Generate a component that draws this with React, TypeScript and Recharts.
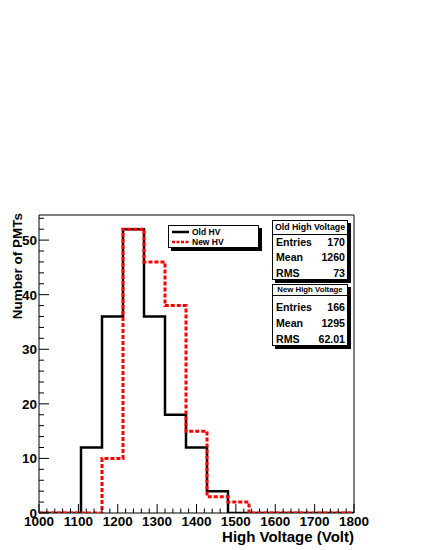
import React from 'react';
import { ComposedChart, Line, XAxis, YAxis, ReferenceArea, Legend, Label } from 'recharts';

// histogram binning (ROOT TH1: 15 bins between 1000 and 1800 V)
const binLow = 1000;
const binHigh = 1800;
const nBins = 15;

const oldHV = [0, 0, 12, 36, 52, 36, 18, 12, 4, 0, 0, 0, 0, 0, 0];
const newHV = [0, 0, 0, 10, 52, 46, 38, 15, 3, 2, 0, 0, 0, 0, 0];

const xMajorTicks = [1000, 1100, 1200, 1300, 1400, 1500, 1600, 1700, 1800];
const yMajorTicks = [0, 10, 20, 30, 40, 50];
const yMax = 54.6;

const oldStats = [
  ['Entries', '170'],
  ['Mean', '1260'],
  ['RMS', '73'],
];
const newStats = [
  ['Entries', '166'],
  ['Mean', '1295'],
  ['RMS', '62.01'],
];

const FONT = '"Liberation Sans", Arial, Helvetica, sans-serif';

// step data: one point per bin low edge + closing point at the upper edge
const binWidth = (binHigh - binLow) / nBins;
const histData = oldHV.map((v, i) => ({ x: binLow + i * binWidth, oldHV: v, newHV: newHV[i] }));
histData.push({ x: binHigh, oldHV: oldHV[nBins - 1], newHV: newHV[nBins - 1] });

// minor ticks every 20 V / 2 counts
const xTicks: number[] = [];
for (let t = binLow; t <= binHigh; t += 20) xTicks.push(t);
const yTicks: number[] = [];
for (let t = 0; t <= 54; t += 2) yTicks.push(t);

const XTick = (props: any) => {
  const { x, y, payload } = props;
  const major = xMajorTicks.includes(payload.value);
  return (
    <g>
      <line x1={x} x2={x} y1={y} y2={y - (major ? 9 : 4.5)} stroke="#000" strokeWidth={1} />
      {major && (
        <text x={x} y={y + 13} textAnchor="middle" fontFamily={FONT} fontWeight="bold" fontSize={13.5} fill="#000">
          {payload.value}
        </text>
      )}
    </g>
  );
};

const YTick = (props: any) => {
  const { x, y, payload } = props;
  const major = yMajorTicks.includes(payload.value);
  return (
    <g>
      <line x1={x} x2={x + (major ? 10 : 5)} y1={y} y2={y} stroke="#000" strokeWidth={1} />
      {major && (
        <text x={x - 2} y={y + 5} textAnchor="end" fontFamily={FONT} fontWeight="bold" fontSize={13.5} fill="#000">
          {payload.value}
        </text>
      )}
    </g>
  );
};

const XTitle = (props: any) => {
  const { viewBox } = props;
  return (
    <text x={viewBox.x + viewBox.width} y={viewBox.y + 29} textAnchor="end" fontFamily={FONT} fontWeight="bold" fontSize={15} fill="#000">
      High Voltage (Volt)
    </text>
  );
};

const YTitle = (props: any) => {
  const { viewBox } = props;
  const x = 22;
  const y = viewBox.y - 2;
  return (
    <text x={x} y={y} transform={`rotate(-90 ${x} ${y})`} textAnchor="end" fontFamily={FONT} fontWeight="bold" fontSize={13.5} fill="#000">
      Number of PMTs
    </text>
  );
};

const HistLegend = () => (
  <div
    style={{
      width: 91,
      height: 23,
      boxSizing: 'border-box',
      border: '1px solid #000',
      background: '#fff',
      boxShadow: '3px 3px 0 #000',
      fontFamily: FONT,
      fontWeight: 'bold',
      fontSize: 8.5,
      padding: '1px 0 0 3px',
    }}
  >
    {[
      { name: 'Old HV', color: '#000', dash: undefined },
      { name: 'New HV', color: '#ff0000', dash: '3 1.5' },
    ].map((e) => (
      <div key={e.name} style={{ display: 'flex', alignItems: 'center', height: 10 }}>
        <svg width={18} height={6} style={{ marginRight: 2 }}>
          <line x1={0} x2={17} y1={3} y2={3} stroke={e.color} strokeWidth={2.5} strokeDasharray={e.dash} />
        </svg>
        <span>{e.name}</span>
      </div>
    ))}
  </div>
);

const StatsBox = ({ title, rows, top, height, titleH, titleSize, padTop, rowH }: any) => (
  <div
    style={{
      position: 'absolute',
      left: 272,
      top,
      width: 76,
      height,
      boxSizing: 'border-box',
      border: '1px solid #000',
      background: '#fff',
      boxShadow: '3px 3px 0 #000',
      fontFamily: FONT,
      fontWeight: 'bold',
      color: '#000',
    }}
  >
    <div
      style={{
        height: titleH,
        borderBottom: '1px solid #000',
        fontSize: titleSize,
        lineHeight: `${titleH}px`,
        textAlign: 'center',
        whiteSpace: 'nowrap',
      }}
    >
      {title}
    </div>
    <div style={{ paddingTop: padTop }}>
      {rows.map((r: string[]) => (
        <div
          key={r[0]}
          style={{ display: 'flex', justifyContent: 'space-between', height: rowH, lineHeight: `${rowH}px`, fontSize: 10.6, padding: '0 2px 0 3px' }}
        >
          <span>{r[0]}</span>
          <span>{r[1]}</span>
        </div>
      ))}
    </div>
  </div>
);

export default function App() {
  return (
    <div style={{ position: 'absolute', left: 0, top: 0, width: 425, height: 550, background: '#fff' }}>
      <ComposedChart width={425} height={550} data={histData} margin={{ top: 215, right: 71, bottom: 0, left: 0 }}>
        <XAxis
          dataKey="x"
          type="number"
          domain={[binLow, binHigh]}
          ticks={xTicks}
          interval={0}
          allowDataOverflow
          height={37}
          axisLine={false}
          tickLine={false}
          tickSize={0}
          tickMargin={0}
          tick={<XTick />}
        >
          <Label content={<XTitle />} />
        </XAxis>
        <YAxis
          type="number"
          domain={[0, yMax]}
          ticks={yTicks}
          interval={0}
          allowDataOverflow
          width={39}
          axisLine={false}
          tickLine={false}
          tickSize={0}
          tickMargin={0}
          tick={<YTick />}
        >
          <Label content={<YTitle />} />
        </YAxis>
        <ReferenceArea x1={binLow} x2={binHigh} y1={0} y2={yMax} fill="none" stroke="#000" strokeWidth={1} />
        <Line
          type="stepAfter"
          dataKey="oldHV"
          name="Old HV"
          stroke="#000"
          strokeWidth={2.5}
          dot={false}
          activeDot={false}
          isAnimationActive={false}
        />
        <Line
          type="stepAfter"
          dataKey="newHV"
          name="New HV"
          stroke="#ff0000"
          strokeWidth={3}
          strokeDasharray="4 2"
          dot={false}
          activeDot={false}
          isAnimationActive={false}
        />
        <Legend
          layout="horizontal"
          verticalAlign="middle"
          align="center"
          wrapperStyle={{ left: 168, top: 225, width: 91, height: 23 }}
          content={<HistLegend />}
        />
      </ComposedChart>
      <StatsBox title="Old High Voltage" rows={oldStats} top={220} height={60} titleH={13} titleSize={8.8} padTop={0} rowH={15.3} />
      <StatsBox title="New High Voltage" rows={newStats} top={284} height={62} titleH={10} titleSize={7.8} padTop={3} rowH={16} />
    </div>
  );
}
